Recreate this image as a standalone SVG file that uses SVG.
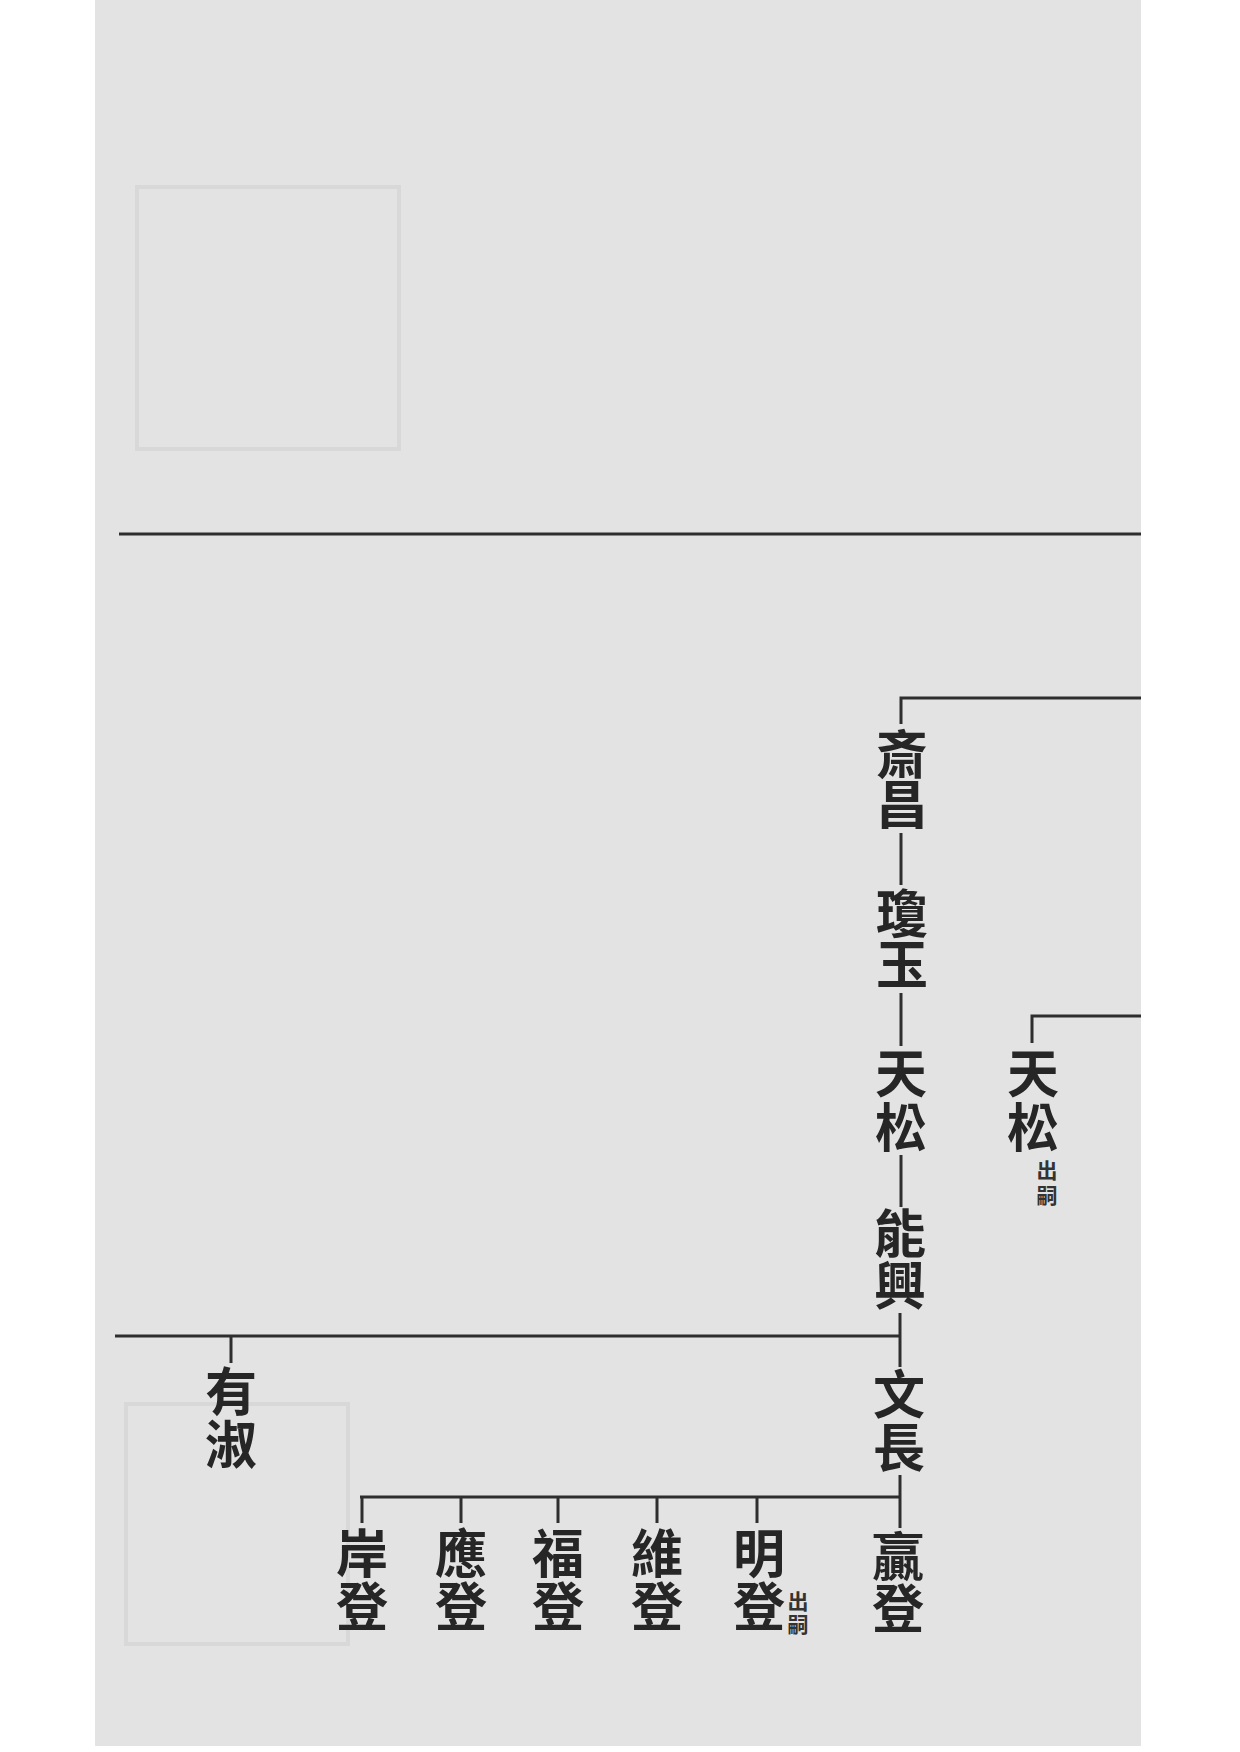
<svg xmlns="http://www.w3.org/2000/svg" width="1240" height="1752" viewBox="0 0 1240 1752">
<style>
.n{font-family:"Noto Sans CJK TC","Noto Sans CJK SC",sans-serif;font-size:52px;font-weight:bold;fill:#262626;text-anchor:middle}
.s{font-family:"Noto Sans CJK TC","Noto Sans CJK SC",sans-serif;font-size:21px;font-weight:bold;fill:#333;text-anchor:middle}
.c{stroke:#2e2e2e;stroke-width:3;fill:none}
.g{stroke:#d8d8d8;stroke-width:4;fill:none}
</style>
<rect x="0" y="0" width="1240" height="1752" fill="#ffffff"/>
<rect x="95" y="0" width="1046" height="1746" fill="#e3e3e3"/>
<g id="ghost">
<rect class="g" x="137" y="187" width="262" height="262"/>
<rect class="g" x="126" y="1404" width="222" height="240"/>
</g>
<g id="connectors">
<path class="c" d="M119 534H1141"/>
<path class="c" d="M1141 698H901V724"/>
<path class="c" d="M901 833V885"/>
<path class="c" d="M901 993V1046"/>
<path class="c" d="M901 1155V1207"/>
<path class="c" d="M900 1313V1367"/>
<path class="c" d="M900 1475V1528"/>
<path class="c" d="M1141 1016H1032V1043"/>
<path class="c" d="M115 1336H900"/>
<path class="c" d="M231 1336V1363"/>
<path class="c" d="M360 1497H900"/>
<path class="c" d="M362 1497V1523M461 1497V1523M558 1497V1523M657 1497V1523M757 1497V1523"/>
</g>
<g id="n-zhaichang"><text class="n" x="902" y="774">斎</text><text class="n" x="902" y="824">昌</text></g>
<g id="n-qiongyu"><text class="n" x="902" y="933">瓊</text><text class="n" x="902" y="984">玉</text></g>
<g id="n-tiansong"><text class="n" x="901" y="1093">天</text><text class="n" x="901" y="1147">松</text></g>
<g id="n-tiansong2"><text class="n" x="1033" y="1093">天</text><text class="n" x="1033" y="1147">松</text><text class="s" x="1047" y="1178">出</text><text class="s" x="1047" y="1203">嗣</text></g>
<g id="n-nengxing"><text class="n" x="900" y="1253">能</text><text class="n" x="900" y="1305">興</text></g>
<g id="n-wenchang"><text class="n" x="899" y="1414">文</text><text class="n" x="899" y="1467">長</text></g>
<g id="n-youshu"><text class="n" x="231" y="1411">有</text><text class="n" x="231" y="1464">淑</text></g>
<g id="n-yingdeng"><text class="n" x="898" y="1576">贏</text><text class="n" x="898" y="1628">登</text></g>
<g id="n-mingdeng"><text class="n" x="759" y="1573">明</text><text class="n" x="759" y="1626">登</text><text class="s" x="798" y="1609">出</text><text class="s" x="798" y="1632">嗣</text></g>
<g id="n-weideng"><text class="n" x="657" y="1573">維</text><text class="n" x="657" y="1626">登</text></g>
<g id="n-fudeng"><text class="n" x="558" y="1573">福</text><text class="n" x="558" y="1626">登</text></g>
<g id="n-yingdeng2"><text class="n" x="461" y="1573">應</text><text class="n" x="461" y="1626">登</text></g>
<g id="n-andeng"><text class="n" x="362" y="1573">岸</text><text class="n" x="362" y="1626">登</text></g>
</svg>
